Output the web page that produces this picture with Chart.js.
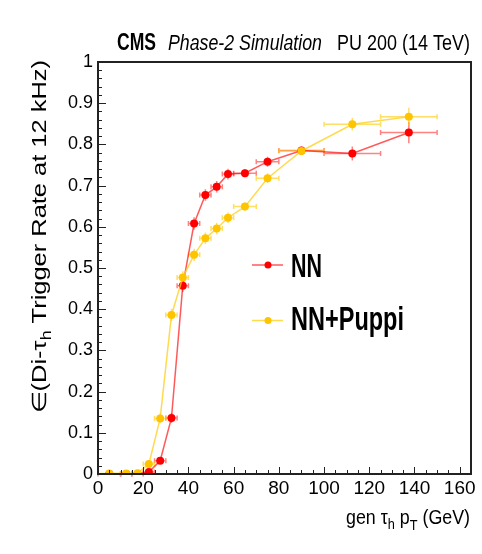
<!DOCTYPE html>
<html><head><meta charset="utf-8">
<script src="https://cdn.jsdelivr.net/npm/chart.js@4.4.0/dist/chart.umd.min.js"></script>
<style>html,body{margin:0;padding:0;background:#fff;overflow:hidden}#wrap{width:482px;height:554px;position:relative}</style>
</head><body><div id="wrap"><canvas id="c"></canvas></div>
<script>
// ---- data ----
const ptBins       = [5, 12.5, 17.5, 22.5, 27.5, 32.5, 37.5, 42.5, 47.5, 52.5, 57.5, 65, 75, 90, 112.5, 137.5];
const ptHalfWidths = [5, 2.5, 2.5, 2.5, 2.5, 2.5, 2.5, 2.5, 2.5, 2.5, 2.5, 5, 5, 10, 12.5, 12.5];
const effNN        = [0, 0, 0, 0.005, 0.032, 0.136, 0.457, 0.608, 0.677, 0.697, 0.728, 0.730, 0.758, 0.785, 0.778, 0.829];
const errNN        = [0.001, 0.001, 0.001, 0.004, 0.008, 0.012, 0.015, 0.015, 0.014, 0.014, 0.013, 0.010, 0.012, 0.010, 0.017, 0.026];
const effNNPuppi   = [0.001, 0.001, 0.002, 0.024, 0.135, 0.386, 0.477, 0.532, 0.572, 0.596, 0.622, 0.649, 0.718, 0.784, 0.849, 0.867];
const errNNPuppi   = [0.001, 0.001, 0.001, 0.006, 0.012, 0.015, 0.015, 0.015, 0.014, 0.014, 0.013, 0.010, 0.012, 0.010, 0.015, 0.022];
const seriesLabels = ['NN', 'NN+Puppi'];
const xTickValues  = [0, 20, 40, 60, 80, 100, 120, 140, 160];
const yTickValues  = [0, 0.1, 0.2, 0.3, 0.4, 0.5, 0.6, 0.7, 0.8, 0.9, 1];
const yTickLabels  = ['0', '0.1', '0.2', '0.3', '0.4', '0.5', '0.6', '0.7', '0.8', '0.9', '1'];

const FONT = '"Liberation Sans", Arial, Helvetica, sans-serif';
const seriesStyle = [
  {point: '#ff0000', line: 'rgba(255,20,20,0.7)', err: 'rgba(255,30,30,0.55)'},
  {point: '#ffc400', line: 'rgba(255,205,20,0.75)', err: 'rgba(255,200,0,0.6)'}
];
const seriesValues = [effNN, effNNPuppi];
const seriesErrors = [errNN, errNNPuppi];

function drawRich(ctx, parts, x, y, targetW, align) {
  let w = 0;
  parts.forEach(p => { ctx.font = p.font; p.w = ctx.measureText(p.t).width; w += p.w; });
  const s = targetW ? targetW / w : 1;
  ctx.save();
  ctx.translate(x, y);
  ctx.scale(s, 1);
  let cx = align === 'right' ? -w : 0;
  ctx.textAlign = 'left';
  ctx.textBaseline = 'alphabetic';
  parts.forEach(p => { ctx.font = p.font; ctx.fillText(p.t, cx, p.dy || 0); cx += p.w; });
  ctx.restore();
}

const decorPlugin = {
  id: 'decor',
  beforeDatasetsDraw(chart) {
    const ctx = chart.ctx, xs = chart.scales.x, ys = chart.scales.y;
    ctx.save();
    ctx.lineWidth = 1.5;
    for (let s = 0; s < 2; s++) {
      ctx.strokeStyle = seriesStyle[s].err;
      const vals = seriesValues[s], errs = seriesErrors[s];
      for (let i = 0; i < ptBins.length; i++) {
        const xc = xs.getPixelForValue(ptBins[i]);
        const xl = xs.getPixelForValue(ptBins[i] - ptHalfWidths[i]);
        const xr = xs.getPixelForValue(ptBins[i] + ptHalfWidths[i]);
        const yc = ys.getPixelForValue(vals[i]);
        const yt = ys.getPixelForValue(vals[i] + errs[i]);
        const yb = ys.getPixelForValue(Math.max(0, vals[i] - errs[i]));
        ctx.beginPath();
        ctx.moveTo(xl, yc); ctx.lineTo(xr, yc);
        ctx.moveTo(xl, yc - 2.5); ctx.lineTo(xl, yc + 2.5);
        ctx.moveTo(xr, yc - 2.5); ctx.lineTo(xr, yc + 2.5);
        ctx.moveTo(xc, yt); ctx.lineTo(xc, yb);
        ctx.stroke();
      }
    }
    ctx.restore();
  },
  afterDraw(chart) {
    const ctx = chart.ctx, a = chart.chartArea, xs = chart.scales.x, ys = chart.scales.y;
    ctx.save();
    // frame
    ctx.strokeStyle = '#222';
    ctx.lineWidth = 2;
    ctx.strokeRect(a.left, a.top, a.right - a.left, a.bottom - a.top);
    // inward ticks
    ctx.lineWidth = 1;
    ctx.beginPath();
    for (let k = 0; k <= 50; k++) {
      const v = k * 0.02;
      const y = Math.round(ys.getPixelForValue(v)) + 0.5;
      const len = (k % 5 === 0) ? 8 : 4;
      ctx.moveTo(a.left, y); ctx.lineTo(a.left + len, y);
    }
    for (let v = 0; v <= 165; v += 5) {
      const x = Math.round(xs.getPixelForValue(v)) + 0.5;
      const len = (v % 20 === 0) ? 7 : 4;
      ctx.moveTo(x, a.bottom); ctx.lineTo(x, a.bottom - len);
    }
    ctx.stroke();

    ctx.fillStyle = '#000';
    // header
    drawRich(ctx, [{t: 'CMS', font: 'bold 23px ' + FONT}], 117, 50, 39);
    drawRich(ctx, [{t: 'Phase-2 Simulation', font: 'italic 22px ' + FONT}], 168, 50, 154);
    drawRich(ctx, [{t: 'PU 200 (14 TeV)', font: '22px ' + FONT}], 337, 50, 133);

    // x title
    drawRich(ctx, [
      {t: 'gen \u03c4', font: '21px ' + FONT},
      {t: 'h', font: '15px ' + FONT, dy: 5},
      {t: ' p', font: '21px ' + FONT},
      {t: 'T', font: '15px ' + FONT, dy: 6},
      {t: ' (GeV)', font: '21px ' + FONT}
    ], 470, 524, 124, 'right');

    // y title (rotated)
    ctx.save();
    ctx.translate(46, 413);
    ctx.rotate(-Math.PI / 2);
    drawRich(ctx, [
      {t: '\u2208(Di-\u03c4', font: '20px ' + FONT},
      {t: 'h', font: '14px ' + FONT, dy: 5},
      {t: ' Trigger Rate at 12 kHz)', font: '20px ' + FONT}
    ], 0, 0, 353);
    ctx.restore();

    // legend
    const legY = [265, 320.5], legBase = [277, 330], legW = [31, 113];
    for (let s = 0; s < 2; s++) {
      ctx.strokeStyle = seriesStyle[s].line;
      ctx.lineWidth = 1.5;
      ctx.beginPath(); ctx.moveTo(252, legY[s]); ctx.lineTo(283, legY[s]); ctx.stroke();
      ctx.fillStyle = seriesStyle[s].point;
      ctx.beginPath(); ctx.arc(268, legY[s], 3.5, 0, Math.PI * 2); ctx.fill();
      ctx.fillStyle = '#000';
      drawRich(ctx, [{t: seriesLabels[s], font: 'bold 33px ' + FONT}], 291, legBase[s], legW[s]);
    }
    ctx.restore();
  }
};

const datasets = seriesLabels.map((lab, s) => ({
  label: lab,
  data: ptBins.map((x, i) => ({x: x, y: seriesValues[s][i]})),
  borderColor: seriesStyle[s].line,
  backgroundColor: seriesStyle[s].point,
  pointBackgroundColor: seriesStyle[s].point,
  pointBorderColor: seriesStyle[s].point,
  pointRadius: 4,
  pointBorderWidth: 0,
  borderWidth: 1.5,
  tension: 0,
  order: s === 0 ? 2 : 1
}));

new Chart(document.getElementById('c'), {
  type: 'line',
  data: {datasets},
  options: {
    responsive: true,
    maintainAspectRatio: false,
    animation: false,
    events: [],
    layout: {padding: {top: 62, right: 11, left: 0, bottom: 0}},
    plugins: {legend: {display: false}, tooltip: {enabled: false}, title: {display: false}},
    scales: {
      x: {
        type: 'linear', min: 0, max: 165,
        grid: {display: false, drawTicks: false},
        border: {display: false},
        afterBuildTicks: sc => { sc.ticks = xTickValues.map(v => ({value: v})); },
        afterFit: sc => { sc.height = 80; },
        ticks: {color: '#000', padding: 3, maxRotation: 0, autoSkip: false, font: {family: FONT, size: 19}}
      },
      y: {
        type: 'linear', min: 0, max: 1,
        grid: {display: false, drawTicks: false},
        border: {display: false},
        afterBuildTicks: sc => { sc.ticks = yTickValues.map(v => ({value: v})); },
        afterFit: sc => { sc.width = 98; },
        ticks: {color: '#000', padding: 5, autoSkip: false, font: {family: FONT, size: 18},
          callback: (v) => { const i = yTickValues.indexOf(v); return i >= 0 ? yTickLabels[i] : ''; }}
      }
    }
  },
  plugins: [decorPlugin]
});
</script>
</body></html>
